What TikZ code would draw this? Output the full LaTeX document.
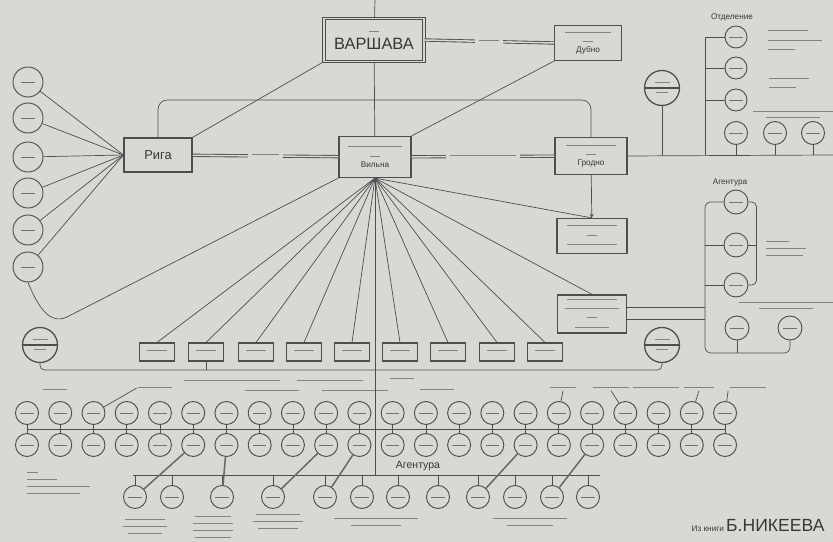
\documentclass[tikz,border=0pt]{standalone}
\usepackage{fontspec}
\setmainfont{Liberation Sans}
\usetikzlibrary{calc}
\definecolor{paper}{RGB}{216,216,213}
\definecolor{ink}{RGB}{78,78,78}
\newcommand{\nerazb}[1]{{\color{ink!70}\rule[.35ex]{#1}{.8pt}}} % неразборчивая надпись

\begin{document}
\begin{tikzpicture}[x=0.03cm,y=-0.03cm,line width=0.6pt,draw=ink,>=stealth]
\tikzstyle{mybox}=[draw=ink,line width=1pt,fill=paper,align=center,inner sep=1pt,text=ink!70!black,font=\fontsize{7}{8}\selectfont] % пункт
\tikzstyle{mysmall}=[draw=ink,line width=0.9pt,fill=paper,minimum width=1.05cm,minimum height=0.54cm,inner sep=0pt] % малый пункт
\tikzstyle{mycirc}=[circle,draw=ink,line width=0.8pt,fill=paper,minimum size=0.69cm,inner sep=0pt,
  path picture={\draw[ink!80,line width=0.7pt] ([xshift=-0.2cm]path picture bounding box.center) -- ([xshift=0.2cm]path picture bounding box.center);}] % агент
\tikzstyle{mybig}=[circle,draw=ink,line width=1.1pt,fill=paper,minimum size=1.05cm,inner sep=0pt,align=center,font=\fontsize{4}{9}\selectfont,
  path picture={\draw[ink] (path picture bounding box.west) -- (path picture bounding box.east);}] % станция
\tikzstyle{dbl}=[double=paper,double distance=1.3pt,line width=0.75pt] % двойная связь
\tikzstyle{lbl}=[text=ink!70!black,font=\fontsize{7}{8}\selectfont,inner sep=1pt]

% фон
\fill[paper] (0,0) rectangle (833,542);
\useasboundingbox (0,0) rectangle (833,542);

% центральные пункты
\node[mybox,double=paper,double distance=1pt,minimum width=3.0cm,minimum height=1.28cm] (warsaw) at (374,40)
  {\nerazb{0.3cm}\\[3pt]{\fontsize{14}{15}\selectfont ВАРШАВА}};
\node[mybox,minimum width=2.0cm,minimum height=1.05cm] (dubno) at (588,43) {\nerazb{1.4cm}\\\nerazb{0.3cm}\\Дубно};
\node[mybox,minimum width=2.04cm,minimum height=1.02cm,font=\fontsize{11}{12}\selectfont] (ryga) at (158,155) {Рига};
\node[mybox,minimum width=2.16cm,minimum height=1.23cm] (vilna) at (375,157) {\nerazb{1.6cm}\\\nerazb{0.3cm}\\Вильна};
\node[mybox,minimum width=2.16cm,minimum height=1.11cm] (grodno) at (591,156) {\nerazb{1.5cm}\\\nerazb{0.3cm}\\Гродно};
\node[mybox,minimum width=2.1cm,minimum height=1.05cm] (punkt2) at (592,236) {\nerazb{1.5cm}\\\nerazb{0.3cm}\\\nerazb{1.5cm}};
\node[mybox,minimum width=2.07cm,minimum height=1.14cm] (punkt3) at (592,314) {\nerazb{1.5cm}\\\nerazb{1.6cm}\\\nerazb{0.3cm}\\\nerazb{1.0cm}};

\coordinate (top) at (375,0);
\draw (top) -- (warsaw);
\draw (warsaw) -- (vilna);
\draw (warsaw.south west) -- (ryga.north east);
\draw[dbl] (warsaw.east) -- node[fill=paper]{\nerazb{0.6cm}} (dubno.west);
\draw (dubno.south west) -- (vilna.north east);
\draw[dbl] (ryga) -- node[fill=paper]{\nerazb{0.8cm}} (vilna);
\draw[dbl] (vilna) -- node[fill=paper]{\nerazb{2cm}} (grodno);
\coordinate (loop) at (375,100);
\draw[rounded corners=8pt] (ryga.north) |- (loop) -| (grodno.north);
\draw[->] (grodno) -- (punkt2);

% рижские агенты
\foreach \y [count=\i] in {82,118,157,193,230,267} {
  \node[mycirc,minimum size=0.9cm] (L\i) at (28,\y) {};
  \draw (L\i) -- (ryga.west);
}
\coordinate (lp) at (67,317);
\draw (L6.south) .. controls (36,302) and (48,326) .. (lp) -- (vilna.south west);

% малые пункты
\foreach \x [count=\i] in {157,206,256,304,352,400,448,497,545} {
  \node[mysmall] (sb\i) at (\x,352) {\nerazb{0.6cm}};
  \draw (vilna.south) -- (sb\i.north);
}
\draw (vilna.south) -- (punkt2.north);
\draw (vilna.south) -- (punkt3.north);
\node[mybig] (BL) at (40,345) {\nerazb{0.45cm}\\\nerazb{0.35cm}};
\node[mybig] (BR) at (662,345) {\nerazb{0.45cm}\\\nerazb{0.35cm}};
\coordinate (jn) at (375,370);
\draw[rounded corners=4pt] (BL.south) |- (jn) -| (BR.south);
\draw (sb2.south) -- (sb2.south |- jn);

% отделения справа
\coordinate (edgeR) at (833,155);
\coordinate (rt) at (705,155);
\draw (grodno.east) -- (edgeR);
\node[mybig] (K1) at (662,88) {\nerazb{0.45cm}\\\nerazb{0.35cm}};
\draw (K1) -- (K1 |- rt);
\node[lbl] (otd) at (732,17) {Отделение};
\foreach \y [count=\i] in {37,68,100} {
  \node[mycirc,minimum size=0.66cm] (O\i) at (736,\y) {};
  \draw (O\i.west) -- (O\i.west -| rt);
}
\draw (O1.west -| rt) -- (rt);
\foreach \x [count=\i] in {736,775,813} {
  \node[mycirc] (T\i) at (\x,133) {};
  \draw (T\i) -- (T\i |- rt);
}
\node[lbl,align=left] at (795,41) {\nerazb{1.2cm}\\\nerazb{1.6cm}\\\nerazb{0.8cm}};
\node[lbl,align=left] at (789,84) {\nerazb{1.2cm}\\\nerazb{0.8cm}};
\node[lbl,align=center,font=\fontsize{4}{5}\selectfont] at (793,115) {\nerazb{2.4cm}\\\nerazb{1.6cm}};

% агентура справа
\node[lbl] (agr) at (730,183) {Агентура};
\foreach \y [count=\i] in {202,245,285} \node[mycirc,minimum size=0.72cm] (A\i) at (736,\y) {};
\node[mycirc,minimum size=0.72cm] (T4) at (737,328) {};
\node[mycirc,minimum size=0.72cm] (T5) at (790,328) {};
\coordinate (ab) at (705,353);
\draw[rounded corners=5pt] (A1.west) -| (ab) -| (T5.south);
\draw (A2.west) -- (A2.west -| ab);
\draw (A3.west) -- (A3.west -| ab);
\draw (T4.south) -- (T4.south |- ab);
\draw[rounded corners=4pt] (A1.east) -- ++(8,0) |- (A3.east);
\draw (A2.east) -- ++(8,0);
\coordinate (p3r) at (punkt3.east -| ab);
\draw ($(punkt3.east)+(0,-7)$) -- ($(p3r)+(0,-7)$);
\draw ($(punkt3.east)+(0,5)$) -- ($(p3r)+(0,5)$);
\node[lbl,align=left,font=\fontsize{5}{6}\selectfont] at (786,249) {\nerazb{0.7cm}\\\nerazb{1.2cm}\\\nerazb{1.1cm}};
\node[lbl,align=center,font=\fontsize{4}{5}\selectfont] at (786,306) {\nerazb{2.8cm}\\\nerazb{1.6cm}};

% два ряда агентов
\foreach \i in {0,...,21} {
  \node[mycirc] (Ra\i) at ({27+33.24*\i},413) {};
  \node[mycirc] (Rb\i) at ({27+33.24*\i},445) {};
  \draw (Ra\i) -- (Rb\i);
}
\draw ($(Ra0)!.5!(Rb0)$) -- ($(Ra21)!.5!(Rb21)$);
\node[lbl] (lb1) at (55,390) {\nerazb{0.7cm}};
\node[lbl] (lb2) at (155,388) {\nerazb{1.0cm}};
\node[lbl] (lb3) at (232,381) {\nerazb{2.9cm}};
\node[lbl] (lb4) at (330,381) {\nerazb{2.0cm}};
\node[lbl] (lb5) at (402,379) {\nerazb{0.7cm}};
\node[lbl] (lb6) at (272,391) {\nerazb{1.6cm}};
\node[lbl] (lb7) at (355,391) {\nerazb{2.0cm}};
\node[lbl] (lb8) at (437,390) {\nerazb{1.0cm}};
\node[lbl] (lb9) at (563,388) {\nerazb{0.8cm}};
\node[lbl] (lb10) at (611,388) {\nerazb{1.1cm}};
\node[lbl] (lb11) at (656,388) {\nerazb{1.4cm}};
\node[lbl] (lb12) at (699,388) {\nerazb{0.9cm}};
\node[lbl] (lb13) at (748,388) {\nerazb{1.1cm}};
\draw (lb2.west) -- (Ra2);
\draw (lb9.south) -- (Ra16);
\draw (lb10.south) -- (Ra18);
\draw (lb12.south) -- (Ra20);
\draw (lb13.south west) -- (Ra21);

% нижняя агентура
\coordinate (ag1) at (133,475);
\coordinate (ag2) at (600,475);
\coordinate (agc) at (375,475);
\draw (vilna) -- (agc);
\draw (ag1) -- (ag2);
\node[lbl,font=\fontsize{9}{10}\selectfont] (agb) at (418,466) {Агентура};
\foreach \x [count=\i] in {135,172,222,273,325,362,398,438,478,515,552,588} {
  \node[mycirc] (B\i) at (\x,497) {};
  \draw (B\i) -- (B\i |- agc);
}
\draw[line width=1.3pt,ink!85] (Rb5) -- (B1);
\draw[line width=1.3pt,ink!85] (Rb6) -- (B3);
\draw[line width=1.3pt,ink!85] (Rb9) -- (B4);
\draw[line width=1.3pt,ink!85] (Rb10) -- (B5);
\draw[line width=1.3pt,ink!85] (Rb15) -- (B9);
\draw[line width=1.3pt,ink!85] (Rb17) -- (B11);
\node[lbl,align=center,font=\fontsize{4}{6}\selectfont] at (145,527) {\nerazb{1.2cm}\\\nerazb{1.3cm}\\\nerazb{1.0cm}};
\node[lbl,align=center,font=\fontsize{4}{6}\selectfont] at (213,527) {\nerazb{1.1cm}\\\nerazb{1.2cm}\\\nerazb{1.2cm}\\\nerazb{1.1cm}};
\node[lbl,align=center,font=\fontsize{4}{6}\selectfont] at (278,522) {\nerazb{1.3cm}\\\nerazb{1.5cm}\\\nerazb{1.2cm}};
\node[lbl,align=center,font=\fontsize{4}{6}\selectfont] at (376,522) {\nerazb{2.5cm}\\\nerazb{1.5cm}};
\node[lbl,align=center,font=\fontsize{4}{6}\selectfont] at (530,522) {\nerazb{2.2cm}\\\nerazb{1.4cm}};
\node[lbl,align=left,anchor=north west,font=\fontsize{4}{6}\selectfont] at (25,470) {\nerazb{0.35cm}\\\nerazb{0.9cm}\\\nerazb{1.9cm}\\\nerazb{1.6cm}};

% подпись
\node[lbl,anchor=base east] (src) at (826,531) {{\fontsize{7}{8}\selectfont Из книги}\ {\fontsize{15}{16}\selectfont Б.НИКЕЕВА}};
\end{tikzpicture}
\end{document}
